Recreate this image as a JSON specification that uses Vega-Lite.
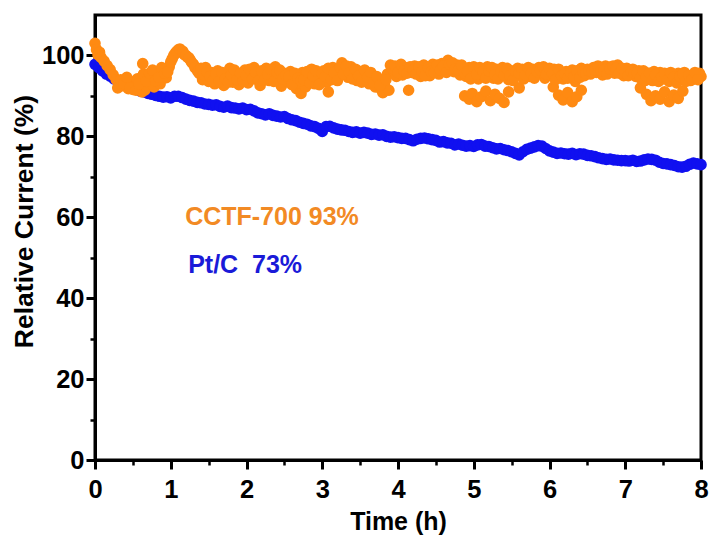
{
  "$schema": "https://vega.github.io/schema/vega-lite/v6.json",
  "width": 606,
  "height": 445,
  "autosize": {"type": "none"},
  "padding": {"left": 95, "top": 15, "right": 9, "bottom": 76},
  "background": "white",
  "config": {
    "view": {"stroke": "black", "strokeWidth": 3},
    "axis": {
      "labelFont": "Liberation Sans",
      "labelFontWeight": "bold",
      "labelFontSize": 25.5,
      "labelColor": "black",
      "labelFlush": false,
      "titleFont": "Liberation Sans",
      "titleFontWeight": "bold",
      "titleFontSize": 25,
      "titleColor": "black",
      "grid": false,
      "tickColor": "black",
      "domainColor": "black"
    }
  },
  "datasets": {
    "pt": [
      {"t":0.00,"v":97.8},{"t":0.05,"v":97.0},{"t":0.10,"v":96.2},{"t":0.15,"v":95.4},{"t":0.20,"v":94.9},{"t":0.25,"v":94.2},{"t":0.30,"v":93.7},{"t":0.35,"v":93.4},{"t":0.40,"v":92.8},{"t":0.45,"v":92.4},
      {"t":0.50,"v":92.0},{"t":0.55,"v":91.6},{"t":0.60,"v":91.2},{"t":0.65,"v":91.0},{"t":0.70,"v":90.6},{"t":0.75,"v":90.4},{"t":0.80,"v":90.1},{"t":0.85,"v":89.9},{"t":0.90,"v":89.7},{"t":0.95,"v":89.8},
      {"t":1.00,"v":89.5},{"t":1.05,"v":89.9},{"t":1.10,"v":89.9},{"t":1.15,"v":89.6},{"t":1.20,"v":89.2},{"t":1.25,"v":88.9},{"t":1.30,"v":88.7},{"t":1.35,"v":88.4},{"t":1.40,"v":88.3},{"t":1.45,"v":88.0},
      {"t":1.50,"v":87.9},{"t":1.55,"v":87.7},{"t":1.60,"v":87.8},{"t":1.65,"v":87.4},{"t":1.70,"v":87.2},{"t":1.75,"v":87.5},{"t":1.80,"v":87.1},{"t":1.85,"v":87.0},{"t":1.90,"v":86.8},{"t":1.95,"v":87.0},
      {"t":2.00,"v":86.6},{"t":2.05,"v":86.7},{"t":2.10,"v":86.3},{"t":2.15,"v":85.8},{"t":2.20,"v":85.6},{"t":2.25,"v":85.3},{"t":2.30,"v":85.6},{"t":2.35,"v":85.2},{"t":2.40,"v":85.0},{"t":2.45,"v":84.8},
      {"t":2.50,"v":84.9},{"t":2.55,"v":84.4},{"t":2.60,"v":84.1},{"t":2.65,"v":83.9},{"t":2.70,"v":83.5},{"t":2.75,"v":83.2},{"t":2.80,"v":83.0},{"t":2.85,"v":82.6},{"t":2.90,"v":82.4},{"t":2.95,"v":82.0},
      {"t":3.00,"v":81.2},{"t":3.05,"v":82.4},{"t":3.10,"v":82.5},{"t":3.15,"v":82.1},{"t":3.20,"v":81.8},{"t":3.25,"v":81.6},{"t":3.30,"v":81.5},{"t":3.35,"v":81.2},{"t":3.40,"v":81.0},{"t":3.45,"v":81.1},
      {"t":3.50,"v":80.8},{"t":3.55,"v":81.0},{"t":3.60,"v":80.8},{"t":3.65,"v":80.5},{"t":3.70,"v":80.6},{"t":3.75,"v":80.3},{"t":3.80,"v":80.4},{"t":3.85,"v":80.0},{"t":3.90,"v":79.8},{"t":3.95,"v":79.9},
      {"t":4.00,"v":79.7},{"t":4.05,"v":79.5},{"t":4.10,"v":79.5},{"t":4.15,"v":79.2},{"t":4.20,"v":78.9},{"t":4.25,"v":79.3},{"t":4.30,"v":79.5},{"t":4.35,"v":79.6},{"t":4.40,"v":79.4},{"t":4.45,"v":79.2},
      {"t":4.50,"v":79.0},{"t":4.55,"v":78.6},{"t":4.60,"v":78.7},{"t":4.65,"v":78.4},{"t":4.70,"v":78.3},{"t":4.75,"v":77.9},{"t":4.80,"v":78.1},{"t":4.85,"v":77.8},{"t":4.90,"v":77.6},{"t":4.95,"v":77.7},
      {"t":5.00,"v":77.5},{"t":5.05,"v":77.9},{"t":5.10,"v":78.0},{"t":5.15,"v":77.6},{"t":5.20,"v":77.5},{"t":5.25,"v":77.2},{"t":5.30,"v":76.9},{"t":5.35,"v":77.0},{"t":5.40,"v":76.7},{"t":5.45,"v":76.5},
      {"t":5.50,"v":76.2},{"t":5.55,"v":75.8},{"t":5.60,"v":75.4},{"t":5.65,"v":76.2},{"t":5.70,"v":76.8},{"t":5.75,"v":77.1},{"t":5.80,"v":77.4},{"t":5.85,"v":77.7},{"t":5.90,"v":77.6},{"t":5.95,"v":77.0},
      {"t":6.00,"v":76.4},{"t":6.05,"v":76.1},{"t":6.10,"v":75.8},{"t":6.15,"v":75.9},{"t":6.20,"v":75.7},{"t":6.25,"v":75.6},{"t":6.30,"v":75.8},{"t":6.35,"v":75.5},{"t":6.40,"v":75.7},{"t":6.45,"v":75.6},
      {"t":6.50,"v":75.3},{"t":6.55,"v":75.2},{"t":6.60,"v":75.0},{"t":6.65,"v":74.7},{"t":6.70,"v":74.5},{"t":6.75,"v":74.3},{"t":6.80,"v":74.4},{"t":6.85,"v":74.2},{"t":6.90,"v":74.1},{"t":6.95,"v":74.0},
      {"t":7.00,"v":74.0},{"t":7.05,"v":73.9},{"t":7.10,"v":74.1},{"t":7.15,"v":73.8},{"t":7.20,"v":73.9},{"t":7.25,"v":74.2},{"t":7.30,"v":74.4},{"t":7.35,"v":74.3},{"t":7.40,"v":74.1},{"t":7.45,"v":73.6},
      {"t":7.50,"v":73.3},{"t":7.55,"v":73.2},{"t":7.60,"v":73.0},{"t":7.65,"v":72.8},{"t":7.70,"v":72.5},{"t":7.75,"v":72.4},{"t":7.80,"v":72.6},{"t":7.85,"v":73.1},{"t":7.90,"v":73.4},{"t":7.95,"v":73.2},
      {"t":8.00,"v":73.0}
    ],
    "cctf": [
      {"t":0.00,"v":103.0},{"t":0.02,"v":101.5},{"t":0.04,"v":100.2},{"t":0.06,"v":100.8},{"t":0.08,"v":99.5},{"t":0.12,"v":98.6},{"t":0.16,"v":97.5},{"t":0.20,"v":96.5},{"t":0.24,"v":95.2},{"t":0.28,"v":94.0},
      {"t":0.32,"v":93.2},{"t":0.36,"v":92.5},{"t":0.40,"v":92.8},{"t":0.44,"v":91.8},{"t":0.48,"v":93.5},{"t":0.50,"v":91.6},{"t":0.52,"v":92.2},{"t":0.56,"v":94.2},{"t":0.60,"v":92.8},{"t":0.62,"v":91.0},{"t":0.63,"v":98.0},
      {"t":0.66,"v":91.5},{"t":0.70,"v":92.6},{"t":0.74,"v":94.0},{"t":0.78,"v":92.2},{"t":0.82,"v":95.5},{"t":0.86,"v":93.0},{"t":0.90,"v":96.2},{"t":0.94,"v":94.5},{"t":0.98,"v":97.2},
      {"t":1.02,"v":99.2},{"t":1.06,"v":100.6},{"t":1.10,"v":101.4},{"t":1.14,"v":100.8},{"t":1.18,"v":100.2},{"t":1.22,"v":99.6},{"t":1.26,"v":98.8},{"t":1.30,"v":97.8},{"t":1.34,"v":96.6},{"t":1.38,"v":95.5},
      {"t":1.42,"v":94.0},{"t":1.46,"v":97.0},{"t":1.50,"v":93.6},{"t":1.54,"v":95.8},{"t":1.58,"v":93.0},{"t":1.62,"v":96.2},{"t":1.66,"v":94.4},{"t":1.70,"v":92.6},{"t":1.74,"v":95.6},{"t":1.78,"v":96.8},
      {"t":1.82,"v":93.4},{"t":1.86,"v":95.0},{"t":1.90,"v":92.8},{"t":1.94,"v":94.6},{"t":1.98,"v":96.4},{"t":2.02,"v":93.2},{"t":2.06,"v":95.8},{"t":2.10,"v":97.0},{"t":2.14,"v":94.2},{"t":2.18,"v":92.6},
      {"t":2.22,"v":95.4},{"t":2.26,"v":96.8},{"t":2.30,"v":93.8},{"t":2.34,"v":95.0},{"t":2.38,"v":97.2},{"t":2.42,"v":94.0},{"t":2.46,"v":92.4},{"t":2.50,"v":95.6},{"t":2.54,"v":93.6},{"t":2.58,"v":96.0},
      {"t":2.62,"v":94.8},{"t":2.66,"v":91.8},{"t":2.70,"v":93.4},{"t":2.72,"v":90.6},{"t":2.74,"v":95.8},{"t":2.78,"v":92.2},{"t":2.82,"v":94.4},{"t":2.86,"v":96.6},{"t":2.90,"v":93.0},{"t":2.94,"v":95.2},{"t":2.98,"v":94.0},
      {"t":3.02,"v":96.2},{"t":3.06,"v":93.4},{"t":3.08,"v":91.0},{"t":3.10,"v":95.6},{"t":3.14,"v":97.0},{"t":3.18,"v":94.4},{"t":3.22,"v":96.6},{"t":3.26,"v":98.2},{"t":3.30,"v":96.0},{"t":3.34,"v":94.6},{"t":3.38,"v":97.2},
      {"t":3.42,"v":95.4},{"t":3.46,"v":93.8},{"t":3.50,"v":96.0},{"t":3.54,"v":94.2},{"t":3.58,"v":95.8},{"t":3.62,"v":93.0},{"t":3.66,"v":94.8},{"t":3.70,"v":92.2},{"t":3.74,"v":93.6},{"t":3.78,"v":91.6},
      {"t":3.80,"v":90.8},{"t":3.82,"v":92.8},{"t":3.86,"v":95.4},{"t":3.88,"v":91.4},{"t":3.90,"v":97.6},{"t":3.94,"v":96.2},{"t":3.98,"v":94.8},{"t":4.02,"v":96.8},{"t":4.06,"v":95.2},{"t":4.10,"v":97.0},{"t":4.14,"v":91.4},
      {"t":4.18,"v":95.8},{"t":4.22,"v":97.4},{"t":4.26,"v":96.0},{"t":4.30,"v":94.8},{"t":4.34,"v":97.6},{"t":4.38,"v":96.2},{"t":4.42,"v":95.0},{"t":4.46,"v":97.8},{"t":4.50,"v":96.6},{"t":4.54,"v":95.4},
      {"t":4.58,"v":98.0},{"t":4.62,"v":96.8},{"t":4.66,"v":98.8},{"t":4.70,"v":97.2},{"t":4.74,"v":96.0},{"t":4.78,"v":97.6},{"t":4.82,"v":95.2},{"t":4.86,"v":96.8},{"t":4.88,"v":90.0},{"t":4.90,"v":94.8},{"t":4.94,"v":97.0},{"t":4.94,"v":89.2},
      {"t":4.98,"v":95.6},{"t":4.98,"v":90.6},{"t":5.02,"v":96.6},{"t":5.04,"v":88.6},{"t":5.06,"v":94.2},{"t":5.10,"v":96.4},{"t":5.10,"v":89.8},{"t":5.14,"v":95.0},{"t":5.16,"v":91.2},{"t":5.18,"v":97.2},{"t":5.22,"v":95.8},{"t":5.22,"v":88.8},
      {"t":5.26,"v":94.4},{"t":5.28,"v":90.4},{"t":5.30,"v":96.6},{"t":5.34,"v":95.2},{"t":5.34,"v":89.4},{"t":5.38,"v":97.0},{"t":5.40,"v":88.4},{"t":5.42,"v":95.6},{"t":5.46,"v":94.0},{"t":5.46,"v":91.0},{"t":5.50,"v":96.2},
      {"t":5.54,"v":95.0},{"t":5.58,"v":96.8},{"t":5.60,"v":92.0},{"t":5.62,"v":95.4},{"t":5.66,"v":94.2},{"t":5.70,"v":96.0},{"t":5.74,"v":94.8},{"t":5.78,"v":96.6},{"t":5.82,"v":95.2},{"t":5.86,"v":97.0},
      {"t":5.90,"v":95.6},{"t":5.94,"v":94.4},{"t":5.98,"v":96.2},{"t":6.02,"v":95.0},{"t":6.05,"v":92.2},{"t":6.06,"v":96.6},{"t":6.10,"v":94.6},{"t":6.12,"v":90.2},{"t":6.14,"v":95.8},{"t":6.18,"v":94.2},{"t":6.18,"v":89.0},
      {"t":6.22,"v":96.0},{"t":6.24,"v":90.8},{"t":6.26,"v":94.8},{"t":6.30,"v":96.4},{"t":6.30,"v":88.6},{"t":6.34,"v":93.6},{"t":6.36,"v":89.8},{"t":6.38,"v":95.2},{"t":6.42,"v":96.8},{"t":6.42,"v":91.4},{"t":6.46,"v":95.0},
      {"t":6.50,"v":96.6},{"t":6.54,"v":95.4},{"t":6.58,"v":97.0},{"t":6.62,"v":95.8},{"t":6.66,"v":96.8},{"t":6.70,"v":95.2},{"t":6.74,"v":97.4},{"t":6.78,"v":96.0},{"t":6.82,"v":97.2},{"t":6.86,"v":95.6},
      {"t":6.90,"v":97.6},{"t":6.94,"v":96.4},{"t":6.98,"v":95.0},{"t":7.02,"v":96.8},{"t":7.06,"v":95.4},{"t":7.10,"v":96.6},{"t":7.14,"v":94.8},{"t":7.18,"v":96.2},{"t":7.20,"v":92.0},{"t":7.22,"v":95.0},
      {"t":7.26,"v":93.8},{"t":7.28,"v":90.4},{"t":7.30,"v":95.6},{"t":7.34,"v":94.4},{"t":7.34,"v":88.8},{"t":7.38,"v":96.0},{"t":7.40,"v":90.0},{"t":7.42,"v":94.6},{"t":7.46,"v":95.8},{"t":7.46,"v":89.2},{"t":7.50,"v":94.2},
      {"t":7.52,"v":91.0},{"t":7.54,"v":95.4},{"t":7.58,"v":93.6},{"t":7.58,"v":88.6},{"t":7.62,"v":95.0},{"t":7.64,"v":90.2},{"t":7.66,"v":93.8},{"t":7.70,"v":95.6},{"t":7.70,"v":89.4},{"t":7.74,"v":94.4},{"t":7.76,"v":91.2},
      {"t":7.78,"v":95.8},{"t":7.82,"v":94.6},{"t":7.86,"v":93.8},{"t":7.90,"v":95.2},{"t":7.94,"v":94.4},{"t":7.98,"v":95.6},{"t":8.00,"v":94.8},
      {"t":0.30,"v":92.0},{"t":0.34,"v":94.0},{"t":0.38,"v":93.0},{"t":0.42,"v":94.6},{"t":0.46,"v":92.0},{"t":0.54,"v":91.4},{"t":0.58,"v":93.0},{"t":0.64,"v":95.4},{"t":0.68,"v":93.6},{"t":0.72,"v":95.6},
      {"t":0.76,"v":96.4},{"t":0.80,"v":93.8},{"t":0.84,"v":94.6},{"t":0.88,"v":97.0},{"t":0.92,"v":95.6},{"t":0.96,"v":96.0},{"t":1.00,"v":98.4},{"t":1.04,"v":100.0},{"t":1.08,"v":101.0},{"t":1.12,"v":101.6},
      {"t":1.16,"v":101.0},{"t":1.20,"v":100.0},{"t":1.24,"v":99.4},{"t":1.28,"v":98.2},{"t":1.32,"v":97.0},{"t":1.36,"v":96.0},{"t":1.40,"v":96.8},
      {"t":1.44,"v":95.2},{"t":1.48,"v":96.0},{"t":1.52,"v":94.8},{"t":1.56,"v":93.8},{"t":1.60,"v":95.4},{"t":1.64,"v":93.6},{"t":1.68,"v":95.8},{"t":1.72,"v":94.2},{"t":1.76,"v":93.4},{"t":1.80,"v":95.2},
      {"t":1.84,"v":96.4},{"t":1.88,"v":94.0},{"t":1.92,"v":95.6},{"t":1.96,"v":93.6},{"t":2.00,"v":95.0},{"t":2.04,"v":96.6},{"t":2.08,"v":94.2},{"t":2.12,"v":95.8},{"t":2.16,"v":93.8},{"t":2.20,"v":96.2},
      {"t":2.24,"v":94.0},{"t":2.28,"v":95.4},{"t":2.32,"v":96.6},{"t":2.36,"v":93.6},{"t":2.40,"v":95.8},{"t":2.44,"v":96.4},{"t":2.48,"v":94.2},{"t":2.52,"v":95.0},{"t":2.56,"v":94.8},{"t":2.60,"v":92.8},
      {"t":2.64,"v":95.6},{"t":2.68,"v":94.4},{"t":2.72,"v":93.8},{"t":2.76,"v":94.0},{"t":2.80,"v":96.0},{"t":2.84,"v":93.2},{"t":2.88,"v":95.0},{"t":2.92,"v":96.2},{"t":2.96,"v":92.8},{"t":3.00,"v":95.6},
      {"t":3.04,"v":94.8},{"t":3.08,"v":96.8},{"t":3.12,"v":94.0},{"t":3.16,"v":95.8},{"t":3.20,"v":93.8},{"t":3.24,"v":97.0},{"t":3.28,"v":95.4},{"t":3.32,"v":97.4},{"t":3.36,"v":95.8},{"t":3.40,"v":94.2},
      {"t":3.44,"v":96.6},{"t":3.48,"v":95.0},{"t":3.52,"v":93.4},{"t":3.56,"v":96.4},{"t":3.60,"v":94.6},{"t":3.64,"v":95.8},{"t":3.68,"v":93.4},{"t":3.72,"v":94.8},{"t":3.76,"v":92.6},{"t":3.84,"v":94.0},
      {"t":3.92,"v":96.8},{"t":3.96,"v":97.4},{"t":4.00,"v":95.8},{"t":4.04,"v":97.8},{"t":4.08,"v":96.2},{"t":4.12,"v":95.6},{"t":4.16,"v":97.2},{"t":4.20,"v":96.4},{"t":4.24,"v":95.4},{"t":4.28,"v":97.2},
      {"t":4.32,"v":96.0},{"t":4.36,"v":95.0},{"t":4.40,"v":97.0},{"t":4.44,"v":96.0},{"t":4.48,"v":95.8},{"t":4.52,"v":97.6},{"t":4.56,"v":96.4},{"t":4.60,"v":97.4},{"t":4.64,"v":95.8},{"t":4.68,"v":97.8},
      {"t":4.72,"v":98.2},{"t":4.76,"v":96.6},{"t":4.80,"v":96.4},{"t":4.84,"v":97.6},{"t":4.88,"v":95.6},{"t":4.92,"v":96.0},{"t":4.96,"v":94.2},{"t":5.00,"v":97.2},{"t":5.04,"v":95.4},{"t":5.08,"v":97.0},
      {"t":5.12,"v":96.0},{"t":5.16,"v":94.4},{"t":5.20,"v":96.2},{"t":5.24,"v":97.0},{"t":5.28,"v":95.2},{"t":5.32,"v":94.2},{"t":5.36,"v":96.0},{"t":5.40,"v":95.2},{"t":5.44,"v":96.8},{"t":5.48,"v":95.0},
      {"t":5.52,"v":93.8},{"t":5.56,"v":96.0},{"t":5.60,"v":95.6},{"t":5.64,"v":96.6},{"t":5.68,"v":95.2},{"t":5.72,"v":97.0},{"t":5.76,"v":95.6},{"t":5.80,"v":94.4},{"t":5.84,"v":96.0},{"t":5.88,"v":96.4},
      {"t":5.92,"v":97.2},{"t":5.96,"v":95.4},{"t":6.00,"v":96.8},{"t":6.04,"v":95.6},{"t":6.08,"v":94.0},{"t":6.12,"v":96.6},{"t":6.16,"v":95.0},{"t":6.20,"v":95.4},{"t":6.24,"v":94.4},{"t":6.28,"v":95.6},
      {"t":6.32,"v":94.8},{"t":6.36,"v":96.2},{"t":6.40,"v":94.6},{"t":6.44,"v":96.0},{"t":6.48,"v":95.6},{"t":6.52,"v":96.2},{"t":6.56,"v":96.0},{"t":6.60,"v":96.4},{"t":6.64,"v":97.4},{"t":6.68,"v":96.2},
      {"t":6.72,"v":96.4},{"t":6.76,"v":95.4},{"t":6.80,"v":96.6},{"t":6.84,"v":97.4},{"t":6.88,"v":96.8},{"t":6.92,"v":95.6},{"t":6.96,"v":96.8},{"t":7.00,"v":96.0},{"t":7.04,"v":95.0},{"t":7.08,"v":96.0},
      {"t":7.12,"v":95.6},{"t":7.16,"v":95.8},{"t":7.20,"v":94.4},{"t":7.24,"v":96.2},{"t":7.28,"v":94.8},{"t":7.32,"v":95.6},{"t":7.36,"v":93.8},{"t":7.40,"v":95.2},{"t":7.44,"v":93.6},{"t":7.48,"v":94.8},
      {"t":7.52,"v":95.6},{"t":7.56,"v":94.0},{"t":7.60,"v":95.8},{"t":7.64,"v":94.6},{"t":7.68,"v":93.2},{"t":7.72,"v":94.8},{"t":7.76,"v":95.4},{"t":7.80,"v":93.6},{"t":7.84,"v":95.0},{"t":7.88,"v":94.0},
      {"t":7.92,"v":95.8},{"t":7.96,"v":94.0}
    ],
    "labels": [
      {"t":1.19,"v":60.0,"label":"CCTF-700 93%","series":"CCTF-700"},
      {"t":1.23,"v":48.1,"label":"Pt/C\u00a0 73%","series":"Pt/C"}
    ]
  },
  "layer": [
    {
      "data": {"name": "pt"},
      "mark": {"type": "circle", "size": 135, "opacity": 1, "color": "#1010F0"},
      "encoding": {
        "x": {"field": "t", "type": "quantitative", "scale": {"domain": [0, 8], "nice": false},
          "axis": {"orient": "bottom", "title": "Time (h)", "values": [0,1,2,3,4,5,6,7,8], "format": "d",
            "tickSize": 9, "tickWidth": 3, "domainWidth": 3, "labelPadding": 8, "titlePadding": 7}},
        "y": {"field": "v", "type": "quantitative", "scale": {"domain": [0, 110], "nice": false},
          "axis": {"orient": "left", "title": "Relative Current (%)", "values": [0,20,40,60,80,100],
            "tickSize": 9, "tickWidth": 3, "domainWidth": 3, "labelPadding": 2, "titlePadding": 3, "titleY": 206, "titleFontSize": 26.5}}
      }
    },
    {
      "data": {"name": "cctf"},
      "mark": {"type": "circle", "size": 135, "opacity": 1, "color": "#FF8A12"},
      "encoding": {
        "x": {"field": "t", "type": "quantitative", "scale": {"domain": [0, 8], "nice": false},
          "axis": {"orient": "bottom", "title": null, "labels": false, "domain": false,
            "values": [0.5,1.5,2.5,3.5,4.5,5.5,6.5,7.5], "tickSize": 5, "tickWidth": 2.5}},
        "y": {"field": "v", "type": "quantitative", "scale": {"domain": [0, 110], "nice": false},
          "axis": {"orient": "left", "title": null, "labels": false, "domain": false,
            "values": [10,30,50,70,90], "tickSize": 5, "tickWidth": 2.5}}
      }
    },
    {
      "data": {"name": "labels"},
      "mark": {"type": "text", "align": "left", "baseline": "middle", "font": "Liberation Sans", "fontWeight": "bold", "fontSize": 25},
      "encoding": {
        "x": {"field": "t", "type": "quantitative", "axis": null},
        "y": {"field": "v", "type": "quantitative", "axis": null},
        "text": {"field": "label"},
        "color": {"field": "series", "type": "nominal", "scale": {"domain": ["CCTF-700", "Pt/C"], "range": ["#F28A24", "#1A1AD8"]}, "legend": null}
      }
    }
  ],
  "resolve": {"axis": {"x": "independent", "y": "independent"}}
}
